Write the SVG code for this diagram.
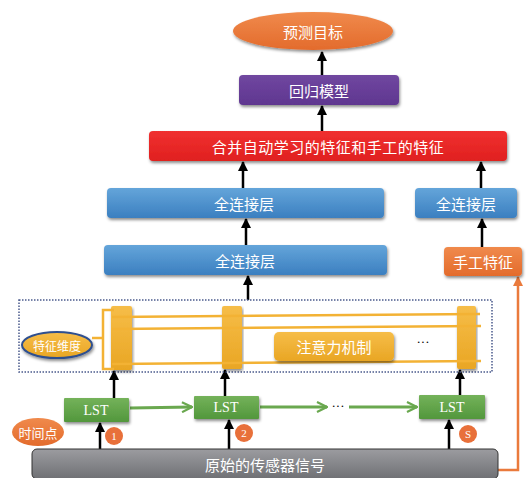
<svg xmlns="http://www.w3.org/2000/svg" width="532" height="478" viewBox="0 0 532 478">
<defs>
<style>
.t{font-family:"Noto Sans CJK SC","Noto Sans",sans-serif;fill:#fff;text-anchor:middle;dominant-baseline:central}
.s{font-family:"Liberation Serif",serif;fill:#fff;text-anchor:middle;dominant-baseline:central}
.blk{stroke:#000;stroke-width:2.5;fill:none}
.grn{stroke:#6aa84f;stroke-width:3;fill:none}
.gold{stroke:#f3b234;stroke-width:2.5;fill:none}
</style>
<linearGradient id="gBlue" x1="0" y1="0" x2="0" y2="1"><stop offset="0" stop-color="#64a5da"/><stop offset="1" stop-color="#3b7fc0"/></linearGradient>
<linearGradient id="gRed" x1="0" y1="0" x2="0" y2="1"><stop offset="0" stop-color="#f03030"/><stop offset="1" stop-color="#e0201f"/></linearGradient>
<linearGradient id="gPur" x1="0" y1="0" x2="0" y2="1"><stop offset="0" stop-color="#7047a0"/><stop offset="1" stop-color="#5f3690"/></linearGradient>
<linearGradient id="gOr" x1="0" y1="0" x2="0" y2="1"><stop offset="0" stop-color="#f08a4c"/><stop offset="1" stop-color="#e36b2c"/></linearGradient>
<linearGradient id="gGrn" x1="0" y1="0" x2="0" y2="1"><stop offset="0" stop-color="#74b25a"/><stop offset="1" stop-color="#52973c"/></linearGradient>
<linearGradient id="gGold" x1="0" y1="0" x2="0" y2="1"><stop offset="0" stop-color="#f6bd48"/><stop offset="1" stop-color="#e9a624"/></linearGradient>
<linearGradient id="gGray" x1="0" y1="0" x2="0" y2="1"><stop offset="0" stop-color="#9c9ca0"/><stop offset="1" stop-color="#6f7074"/></linearGradient>
<filter id="sh" x="-10%" y="-30%" width="120%" height="170%"><feDropShadow dx="1" dy="2" stdDeviation="1.6" flood-color="#000" flood-opacity="0.45"/></filter>
<marker id="ab" viewBox="0 0 10 10" refX="9" refY="5" markerWidth="4" markerHeight="4" orient="auto" markerUnits="strokeWidth"><path d="M0,0 L10,5 L0,10 Z" fill="#000"/></marker>
<marker id="ao" viewBox="0 0 10 10" refX="9" refY="5" markerWidth="4" markerHeight="4" orient="auto" markerUnits="strokeWidth"><path d="M0,0 L10,5 L0,10 Z" fill="#ea7a3c"/></marker>
<marker id="ag" viewBox="0 0 12 12" refX="11" refY="6" markerWidth="4" markerHeight="4" orient="auto" markerUnits="strokeWidth"><path d="M1,1 L11,6 L1,11" fill="none" stroke="#6aa84f" stroke-width="2.2"/></marker>
</defs>

<g id="connectors">
<line class="blk" x1="322" y1="75" x2="322" y2="52" marker-end="url(#ab)"/>
<line class="blk" x1="322" y1="131" x2="322" y2="106" marker-end="url(#ab)"/>
<line class="blk" x1="243" y1="188" x2="243" y2="162" marker-end="url(#ab)"/>
<line class="blk" x1="481" y1="188" x2="481" y2="162" marker-end="url(#ab)"/>
<line class="blk" x1="246" y1="245" x2="246" y2="219" marker-end="url(#ab)"/>
<line class="blk" x1="482" y1="247" x2="482" y2="219" marker-end="url(#ab)"/>
<line class="blk" x1="248" y1="300" x2="248" y2="276" marker-end="url(#ab)"/>
<polyline points="498,470 518,470 518,277" fill="none" stroke="#ea7a3c" stroke-width="2.5" marker-end="url(#ao)"/>
<line class="blk" x1="114" y1="398" x2="114" y2="371" marker-end="url(#ab)"/>
<line class="blk" x1="225" y1="396" x2="225" y2="370" marker-end="url(#ab)"/>
<line class="blk" x1="460" y1="395" x2="460" y2="370" marker-end="url(#ab)"/>
<line class="blk" x1="100" y1="449" x2="100" y2="423" marker-end="url(#ab)"/>
<line class="blk" x1="229" y1="449" x2="229" y2="420" marker-end="url(#ab)"/>
<line class="blk" x1="449" y1="449" x2="449" y2="420" marker-end="url(#ab)"/>
<line class="grn" x1="130" y1="408" x2="192" y2="407" marker-end="url(#ag)"/>
<line class="grn" x1="260" y1="407" x2="327" y2="407" marker-end="url(#ag)"/>
<line class="grn" x1="349" y1="407" x2="417" y2="407" marker-end="url(#ag)"/>
<text x="338" y="405" font-family="Liberation Serif,serif" font-size="13" fill="#000" text-anchor="middle" dominant-baseline="central">···</text>
</g>

<g id="target"><ellipse cx="313" cy="31" rx="80" ry="19" fill="url(#gOr)" filter="url(#sh)"/><text class="t" x="313" y="31" font-size="15">预测目标</text></g>
<g id="regression"><rect x="239" y="75" width="160" height="30" rx="4" fill="url(#gPur)" filter="url(#sh)"/><text class="t" x="319" y="90" font-size="15">回归模型</text></g>
<g id="merge"><rect x="149" y="131" width="358" height="30" rx="4" fill="url(#gRed)" filter="url(#sh)"/><text class="t" x="328" y="146" font-size="15" letter-spacing="0.5">合并自动学习的特征和手工的特征</text></g>
<g id="fc-upper"><rect x="107" y="188" width="277" height="30" rx="4" fill="url(#gBlue)" filter="url(#sh)"/><text class="t" x="244" y="203" font-size="15">全连接层</text></g>
<g id="fc-right"><rect x="415" y="188" width="102" height="30" rx="4" fill="url(#gBlue)" filter="url(#sh)"/><text class="t" x="466" y="203" font-size="15">全连接层</text></g>
<g id="fc-lower"><rect x="104" y="245" width="283" height="30" rx="4" fill="url(#gBlue)" filter="url(#sh)"/><text class="t" x="245" y="260" font-size="15">全连接层</text></g>
<g id="handcrafted"><rect x="444" y="247" width="78" height="29" rx="4" fill="url(#gOr)" filter="url(#sh)"/><text class="t" x="483" y="261.5" font-size="15">手工特征</text></g>

<g id="attention-block">
<rect x="19" y="300" width="473" height="72" fill="none" stroke="#4a5a8c" stroke-width="1.5" stroke-dasharray="1.5,1.5"/>
<rect x="111" y="306" width="21" height="64" rx="2" fill="url(#gGold)" filter="url(#sh)"/>
<rect x="222" y="306" width="20" height="63" rx="2" fill="url(#gGold)" filter="url(#sh)"/>
<rect x="457" y="306" width="19" height="63" rx="2" fill="url(#gGold)" filter="url(#sh)"/>
<line class="gold" x1="112" y1="317" x2="480" y2="314"/>
<line class="gold" x1="112" y1="329" x2="481" y2="326"/>
<line class="gold" x1="112" y1="364" x2="481" y2="361"/>
<polyline class="gold" points="114,310 103,310 103,369 114,369"/>
<line class="gold" x1="92" y1="338" x2="103" y2="338"/>
<text x="423" y="341" font-family="Liberation Serif,serif" font-size="13" fill="#000" text-anchor="middle" dominant-baseline="central">···</text>
</g>
<g id="feature-dim"><ellipse cx="57" cy="345" rx="35" ry="13" fill="url(#gGold)" stroke="#2f4f8f" stroke-width="2" filter="url(#sh)"/><text class="t" x="57" y="345" font-size="12">特征维度</text></g>
<g id="attention"><rect x="274" y="332" width="120" height="29" rx="5" fill="url(#gGold)" filter="url(#sh)"/><text class="t" x="334" y="346.5" font-size="15">注意力机制</text></g>

<g id="lst1"><rect x="64" y="398" width="65" height="24" rx="1" fill="url(#gGrn)" filter="url(#sh)"/><text class="s" x="96" y="410" font-size="14">LST</text></g>
<g id="lst2"><rect x="194" y="396" width="65" height="23" rx="1" fill="url(#gGrn)" filter="url(#sh)"/><text class="s" x="226" y="407.5" font-size="14">LST</text></g>
<g id="lst3"><rect x="419" y="395" width="66" height="24" rx="1" fill="url(#gGrn)" filter="url(#sh)"/><text class="s" x="452" y="407" font-size="14">LST</text></g>

<g id="timestep"><ellipse cx="38" cy="432" rx="26" ry="14" fill="url(#gOr)"/><text class="t" x="38" y="432" font-size="13">时间点</text></g>
<g id="n1"><circle cx="114" cy="436" r="9" fill="#e8703a"/><text class="s" x="114" y="436" font-size="11">1</text></g>
<g id="n2"><circle cx="244" cy="433" r="9" fill="#e8703a"/><text class="s" x="244" y="433" font-size="11">2</text></g>
<g id="ns"><circle cx="468" cy="434" r="9" fill="#e8703a"/><text class="s" x="468" y="434" font-size="11">S</text></g>

<g id="signal"><rect x="32" y="449" width="466" height="30" rx="5" fill="url(#gGray)" stroke="#333" stroke-width="1"/><text class="t" x="265" y="464" font-size="15">原始的传感器信号</text></g>
</svg>
